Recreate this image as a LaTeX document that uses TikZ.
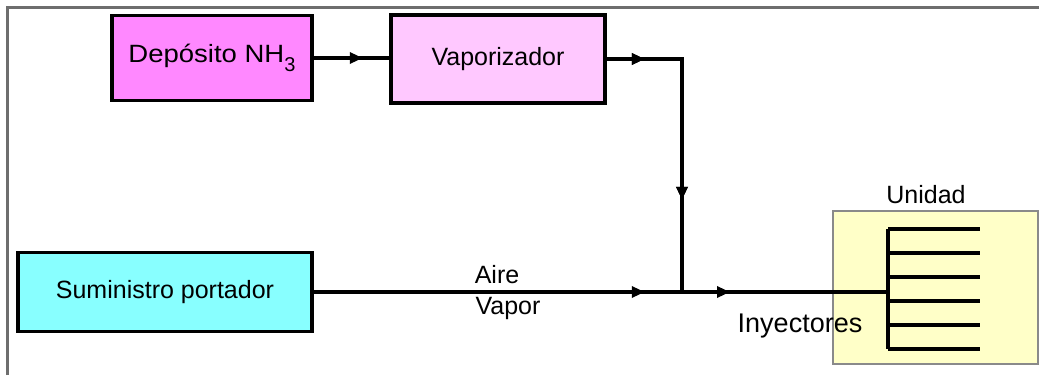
\documentclass[tikz,border=0pt]{standalone}
\usepackage{fontspec}
\setmainfont{Liberation Sans}
\usetikzlibrary{arrows.meta,decorations.markings}
\definecolor{depfill}{HTML}{FF88FF}
\definecolor{vapfill}{HTML}{FFC8FF}
\definecolor{sumfill}{HTML}{88FFFF}
\definecolor{unifill}{HTML}{FFFFC8}
\definecolor{framegray}{HTML}{6E6E6E}
\definecolor{unigray}{HTML}{8A8A8A}
\tikzset{
  blk/.style={draw=black, line width=3.5pt, inner sep=0pt, font=\fontsize{25}{30}\selectfont},
  lbl/.style={inner sep=0pt, font=\fontsize{25}{30}\selectfont},
  conn/.style={line width=3.5pt},
  tip/.style={decoration={markings, mark=at position #1 with {\arrow{Triangle[length=13pt,width=11pt]}}}, postaction={decorate}},
}
\begin{document}
\begin{tikzpicture}[x=1pt,y=-1pt]
\useasboundingbox (0,0) rectangle (1039,375);
% outer frame (top and left)
\draw[framegray, line width=3pt] (7,375) -- (7,7) -- (1039,7);
% unit box
\node[draw=unigray, fill=unifill, line width=2pt, minimum width=205pt, minimum height=153pt, inner sep=0pt] (uni) at (935.5,287.5) {};
\node[lbl] (unilbl) at (926,195) {Unidad};
% blocks
\node[blk, fill=depfill, minimum width=200pt, minimum height=85pt] (dep) at (212,58) {\scalebox{1.1}[1]{Depósito NH}\raisebox{-9pt}{\fontsize{20}{20}\selectfont 3}};
\node[blk, fill=vapfill, minimum width=214pt, minimum height=88pt] (vap) at (498,59) {Vaporizador};
\node[blk, fill=sumfill, minimum width=294pt, minimum height=79pt] (sum) at (165,292) {Suministro portador};
% coordinates
\coordinate (jn) at (682,292);
\coordinate (cin) at (888,292);
% connectors
\draw[conn, tip=49pt] (dep.east) -- (vap.west |- dep.east);
\draw[conn, tip=38pt, tip=216pt] (vap.east) -| (jn);
\draw[conn, tip=331pt] (sum.east) -- (jn);
\draw[conn, tip=48pt] (jn) -- (cin);
% injector comb
\coordinate (ct) at (888,229);
\coordinate (cb) at (888,349);
\draw[conn] (ct) -- (cb);
\foreach \yy in {229,253,277,301,325,349} {
  \draw[conn] (888,\yy) -- (980,\yy);
}
% labels
\node[lbl] (aire) at (497,275) {Aire};
\node[lbl] (vapor) at (508,308) {Vapor};
\node[lbl, font=\fontsize{27}{30}\selectfont] (iny) at (800,326) {Inyectores};
\end{tikzpicture}
\end{document}
